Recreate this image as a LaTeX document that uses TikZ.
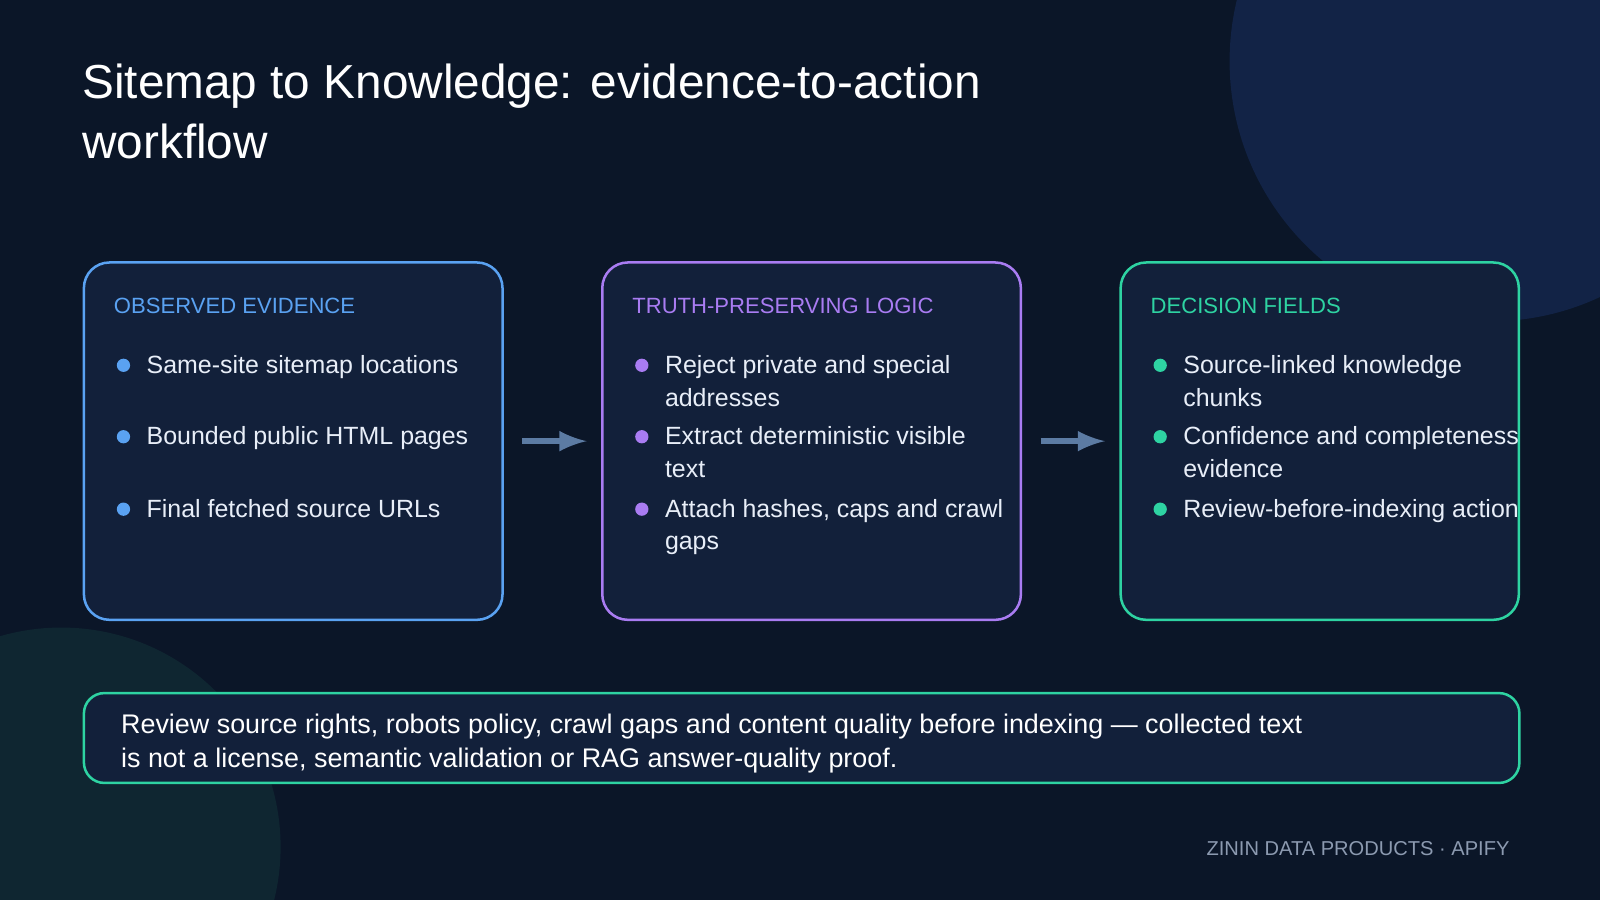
\documentclass[tikz,border=0pt]{standalone}
\usepackage{fontspec}
\setmainfont{Liberation Sans}
\usetikzlibrary{positioning}
\definecolor{bgnavy}{HTML}{0B1628}
\definecolor{boxfill}{HTML}{12203A}
\definecolor{evblue}{HTML}{5AA2F2}
\definecolor{logicpurple}{HTML}{A97CF2}
\definecolor{fieldgreen}{HTML}{2ED3A2}
\definecolor{arrowgray}{HTML}{5C7BA3}
\definecolor{footgray}{HTML}{8C9AB0}
\definecolor{bodytext}{HTML}{E8EEF8}
\definecolor{glowblue}{HTML}{122346}
\definecolor{glowteal}{HTML}{0F2631}
\newcommand{\toplines}[1]{\begin{tabular}[t]{@{}l@{}}#1\end{tabular}}

\begin{document}
\begin{tikzpicture}[x=0.01cm, y=-0.01cm,
  stage/.style={draw, line width=0.7pt, rounded corners=0.25cm, fill=boxfill, minimum height=3.5cm, anchor=north west},
  head/.style={anchor=base west, inner sep=0pt, font=\fontsize{6.15}{7}\selectfont},
  item/.style={anchor=base west, text=bodytext, font=\fontsize{6.95}{9.1}\selectfont, inner sep=0pt},
  dot/.style={circle, fill=#1, inner sep=0pt, minimum size=0.13cm},
  flow/.style={-latex, arrowgray, line width=1.6pt}]

% Fondo
\fill[bgnavy] (0,0) rectangle (1568,882);
\begin{scope}
\clip (0,0) rectangle (1568,882);
\fill[glowblue] (1460,60) circle (255);
\fill[glowteal] (60,830) circle (215);
\end{scope}

% Titulo
\node[anchor=base west, text=white, font=\fontsize{13.3}{16.5}\selectfont, inner sep=0pt] (title) at (80,97) {\toplines{Sitemap to Knowledge: evidence-to-action\\workflow}};

% Cajas
\node[stage, draw=evblue, minimum width=4.1cm] (obs) at (81,256) {};
\node[stage, draw=logicpurple, minimum width=4.1cm] (logic) at (589,256) {};
\node[stage, draw=fieldgreen, minimum width=3.9cm] (fields) at (1097,256) {};

% Observed evidence
\node[head, text=evblue] (obsh) at (111,307) {OBSERVED EVIDENCE};
\node[dot=evblue] (o1) at (121,358) {};
\node[item] (o1t) at (143,366) {Same-site sitemap locations};
\node[dot=evblue] (o2) at (121,428) {};
\node[item] (o2t) at (143,436) {Bounded public HTML pages};
\node[dot=evblue] (o3) at (121,499) {};
\node[item] (o3t) at (143,507) {Final fetched source URLs};

% Truth-preserving logic
\node[head, text=logicpurple] (logich) at (619,307) {TRUTH-PRESERVING LOGIC};
\node[dot=logicpurple] (l1) at (629,358) {};
\node[item] (l1t) at (651,366) {\toplines{Reject private and special\\addresses}};
\node[dot=logicpurple] (l2) at (629,428) {};
\node[item] (l2t) at (651,436) {\toplines{Extract deterministic visible\\text}};
\node[dot=logicpurple] (l3) at (629,499) {};
\node[item] (l3t) at (651,507) {\toplines{Attach hashes, caps and crawl\\gaps}};

% Decision fields
\node[head, text=fieldgreen] (fieldsh) at (1127,307) {DECISION FIELDS};
\node[dot=fieldgreen] (f1) at (1137,358) {};
\node[item] (f1t) at (1159,366) {\toplines{Source-linked knowledge\\chunks}};
\node[dot=fieldgreen] (f2) at (1137,428) {};
\node[item] (f2t) at (1159,436) {\toplines{Confidence and completeness\\evidence}};
\node[dot=fieldgreen] (f3) at (1137,499) {};
\node[item] (f3t) at (1159,507) {Review-before-indexing action};

% Flechas
\draw[flow] ([xshift=0.18cm]obs.east) -- ([xshift=-0.14cm]logic.west);
\draw[flow] ([xshift=0.18cm]logic.east) -- ([xshift=-0.14cm]fields.west);

% Nota inferior
\node[draw=fieldgreen, line width=0.7pt, rounded corners=0.2cm, fill=boxfill, minimum width=14.06cm, minimum height=0.88cm, anchor=north west] (note) at (81,678) {};
\node[item, text=white, font=\fontsize{7.5}{9.4}\selectfont] (notet) at (118,719) {\toplines{Review source rights, robots policy, crawl gaps and content quality before indexing — collected text\\is not a license, semantic validation or RAG answer-quality proof.}};

% Pie
\node[anchor=base east, text=footgray, font=\fontsize{5.6}{6}\selectfont, inner sep=0pt] (foot) at (1480,838) {ZININ DATA PRODUCTS · APIFY};
\end{tikzpicture}
\end{document}
